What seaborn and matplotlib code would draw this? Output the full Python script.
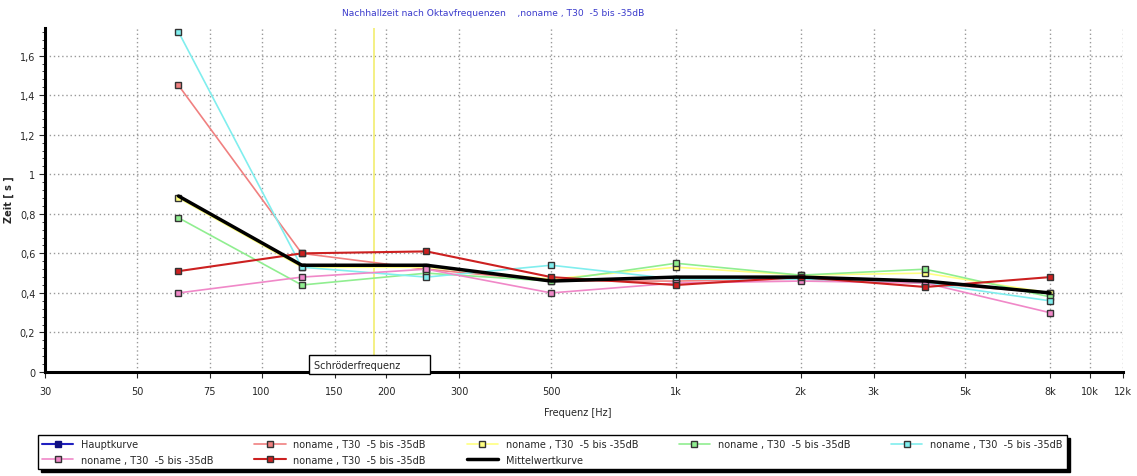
import matplotlib
matplotlib.use("Agg")
import matplotlib.pyplot as plt
import seaborn as sns
import pandas as pd
from matplotlib.lines import Line2D
from matplotlib.ticker import FixedLocator, MultipleLocator, NullLocator

# Data
freqs = [63, 125, 250, 500, 1000, 2000, 4000, 8000]
salmon = [1.45, 0.60, 0.52, 0.46, 0.46, 0.47, 0.45, 0.40]
yellow = [0.88, 0.53, 0.53, 0.47, 0.53, 0.49, 0.50, 0.40]
green = [0.78, 0.44, 0.50, 0.46, 0.55, 0.49, 0.52, 0.38]
cyan = [1.72, 0.53, 0.48, 0.54, 0.47, 0.47, 0.45, 0.36]
pink = [0.40, 0.48, 0.52, 0.40, 0.45, 0.46, 0.45, 0.30]
darkred = [0.51, 0.60, 0.61, 0.48, 0.44, 0.48, 0.43, 0.48]
mittel = [0.89, 0.54, 0.54, 0.46, 0.48, 0.48, 0.46, 0.40]
schroeder = 187

xticks = [30, 50, 75, 100, 150, 200, 300, 500, 1000, 2000, 3000, 5000, 8000, 10000, 12000]
xlabels = ["30", "50", "75", "100", "150", "200", "300", "500",
           "1k", "2k", "3k", "5k", "8k", "10k", "12k"]
yticks = [0, 0.2, 0.4, 0.6, 0.8, 1.0, 1.2, 1.4, 1.6]
ylabels = ["0", "0,2", "0,4", "0,6", "0,8", "1", "1,2", "1,4", "1,6"]

name = "noname , T30  -5 bis -35dB"

sns.set_style("white")
plt.rcParams["font.family"] = ["DejaVu Sans"]
plt.rcParams["font.size"] = 6.5

fig = plt.figure(figsize=(11.37, 4.77), dpi=100)
ax = fig.add_axes([45 / 1137, 1 - 373 / 477, (1123 - 45) / 1137, (373 - 29) / 477])

series = [
    (salmon, "#f08080", 1.2),
    (yellow, "#ffff80", 1.2),
    (green, "#90ee90", 1.2),
    (cyan, "#80eeee", 1.2),
    (pink, "#f088c8", 1.2),
    (darkred, "#cc2020", 1.5),
]
handles = {}
for vals, col, lw in series:
    df = pd.DataFrame({"f": freqs, "t": vals})
    sns.lineplot(data=df, x="f", y="t", ax=ax, color=col, lw=lw, marker="s",
                 ms=5, mfc=col, mec="#333333", mew=1.0, zorder=3)
    handles[col] = Line2D([], [], color=col, lw=lw, marker="s", ms=5,
                          mfc=col, mec="#333333", mew=1.0)

df = pd.DataFrame({"f": freqs, "t": mittel})
sns.lineplot(data=df, x="f", y="t", ax=ax, color="black", lw=2.5, zorder=4)

ax.axvline(schroeder, color="#f2ee70", lw=1.2, zorder=2)
ax.text(134, 0.012, "Schröderfrequenz        ", fontsize=7, va="bottom", ha="left",
        bbox=dict(boxstyle="square,pad=0.5", fc="white", ec="black", lw=1), zorder=5)

ax.set_xscale("log")
ax.set_xlim(30, 12000)
ax.set_ylim(0, 1.74)
ax.xaxis.set_major_locator(FixedLocator(xticks))
ax.xaxis.set_minor_locator(NullLocator())
ax.set_xticklabels(xlabels)
ax.set_yticks(yticks)
ax.set_yticklabels(ylabels)
ax.yaxis.set_minor_locator(MultipleLocator(0.04))
ax.tick_params(axis="x", which="major", direction="out", length=4, width=0.8,
               labelsize=7, bottom=True, pad=6)
ax.tick_params(axis="y", which="major", direction="out", length=4, width=0.8,
               labelsize=7, left=True, pad=3)
ax.tick_params(axis="y", which="minor", direction="out", length=2, width=0.6, left=True)

ax.grid(True, which="major", color="#999999", ls=(0, (1, 2)), lw=1)
for s in ["top", "right"]:
    ax.spines[s].set_visible(False)
for s in ["left", "bottom"]:
    ax.spines[s].set_color("black")
    ax.spines[s].set_linewidth(2.2)

ax.set_xlabel("Frequenz [Hz]", fontsize=7)
ax.xaxis.set_label_coords((578 - 45) / 1078, -(408 - 373) / 344)
ax.set_ylabel("Zeit [ s ]", fontsize=7, fontweight="bold")
ax.yaxis.set_label_coords((14 - 45) / 1078, (373 - 200) / 344)

fig.text(493 / 1137, 1 - 13 / 477, "Nachhallzeit nach Oktavfrequenzen    ,noname , T30  -5 bis -35dB",
         color="#3a3acc", fontsize=6.6, ha="center", va="center")

haupt = Line2D([], [], color="#2020c0", lw=1.5, marker="s", ms=5, mfc="#101080", mec="#101080")
mean_h = Line2D([], [], color="black", lw=2.5)
order = [
    (haupt, "Hauptkurve"),
    (handles["#f088c8"], name),
    (handles["#f08080"], name),
    (handles["#cc2020"], name),
    (handles["#ffff80"], name),
    (mean_h, "Mittelwertkurve"),
    (handles["#90ee90"], name),
    (handles["#80eeee"], name),
]
leg = fig.legend([h for h, _ in order], [l for _, l in order], ncol=5,
                 loc="upper left", bbox_to_anchor=(33 / 1137, 1 - 431 / 477),
                 fontsize=7, frameon=True, fancybox=False, edgecolor="black",
                 handlelength=3.2, handletextpad=0.8, columnspacing=4.2,
                 borderpad=0.45, labelspacing=0.55,
                 shadow={"color": "black", "alpha": 1, "ox": 2, "oy": -2})
leg.get_frame().set_linewidth(1.0)

fig.savefig("out.png", dpi=100)
plt.close(fig)
